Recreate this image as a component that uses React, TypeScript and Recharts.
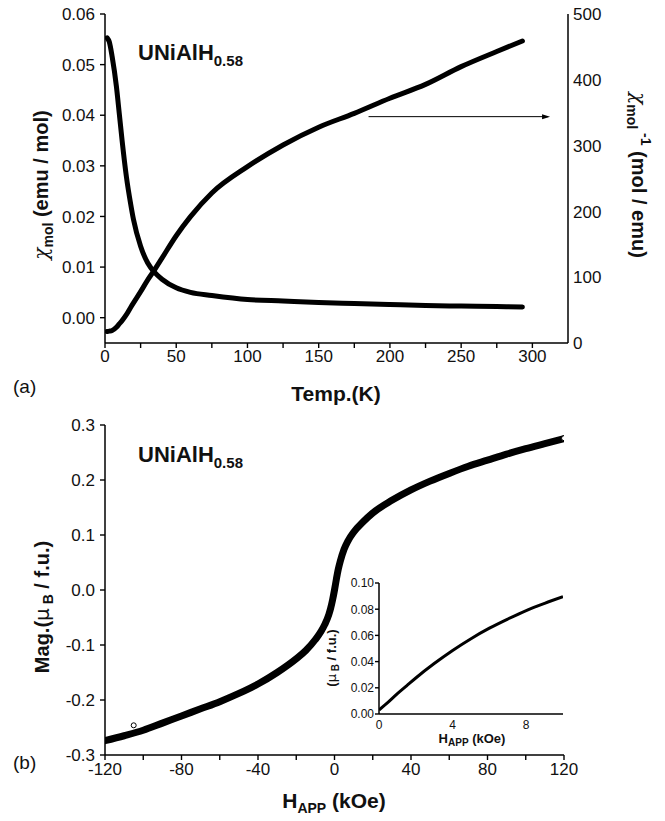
import React from "react";
import { ComposedChart, Line, Scatter, XAxis, YAxis, ReferenceLine, ReferenceDot } from "recharts";

const FONT = '"Liberation Sans", Arial, Helvetica, sans-serif';
const SANS_GREEK = '"DejaVu Sans", "Liberation Sans", sans-serif';
const SERIF_GREEK = '"DejaVu Serif", "Liberation Serif", serif';
const INK = "#111";

// (a) susceptibility vs temperature
const TEMP = [1.5, 3, 5, 8, 10, 12, 15, 18, 20, 25, 30, 35, 40, 50, 60, 75, 100, 125, 150, 175, 200, 225, 250, 275, 293];
const CHI = [0.0553, 0.0545, 0.0516, 0.0457, 0.0404, 0.035, 0.0279, 0.0225, 0.0194, 0.0141, 0.0108, 0.0089, 0.0076, 0.0059, 0.005, 0.0044, 0.0036, 0.0033, 0.003, 0.0028, 0.0026, 0.0024, 0.0023, 0.0022, 0.0021];
const CHI_INV = [17.5, 18, 19, 24, 29, 34, 43, 54, 61, 78, 96, 112, 129, 163, 192, 228, 268, 301, 328, 349, 372, 393, 420, 443, 459];
const TEMP_TICKS = [0, 25, 50, 75, 100, 125, 150, 175, 200, 225, 250, 275, 300];
const TEMP_LABELS = [0, 50, 100, 150, 200, 250, 300];
const CHI_LABELS = [0, 0.01, 0.02, 0.03, 0.04, 0.05, 0.06];
const CHI_MINOR = [0.005, 0.015, 0.025, 0.035, 0.045, 0.055];
const INV_LABELS = [0, 100, 200, 300, 400, 500];
const INV_MINOR = [50, 150, 250, 350, 450];
const ARROW_T = [185, 311];
const ARROW_INV = 344;

// (b) magnetisation vs applied field
const FIELD = [-120, -110, -100, -90, -80, -70, -60, -50, -40, -30, -20, -15, -10, -7, -5, -3, -2, -1, 0, 1, 2, 3, 5, 7, 10, 15, 20, 30, 40, 50, 60, 70, 80, 90, 100, 110, 120];
const MAG = [-0.274, -0.265, -0.255, -0.242, -0.229, -0.216, -0.203, -0.188, -0.171, -0.15, -0.125, -0.11, -0.09, -0.075, -0.062, -0.045, -0.033, -0.018, 0.0, 0.02, 0.038, 0.052, 0.074, 0.089, 0.105, 0.124, 0.14, 0.163, 0.182, 0.198, 0.212, 0.225, 0.236, 0.247, 0.257, 0.266, 0.275];
const OPEN_H = [-105, 120];
const OPEN_M = [-0.246, 0.276];
const FIELD_TICKS = [-120, -100, -80, -60, -40, -20, 0, 20, 40, 60, 80, 100, 120];
const FIELD_LABELS = [-120, -80, -40, 0, 40, 80, 120];
const MAG_LABELS = [-0.3, -0.2, -0.1, 0, 0.1, 0.2, 0.3];
const MAG_MINOR = [-0.25, -0.15, -0.05, 0.05, 0.15, 0.25];

// inset: low field
const LOW_H = [0, 0.5, 1, 1.5, 2, 3, 4, 5, 6, 7, 8, 9, 10];
const LOW_M = [0.003, 0.009, 0.0155, 0.0215, 0.0275, 0.0385, 0.0485, 0.0575, 0.0655, 0.0725, 0.079, 0.0845, 0.0895];
const LOW_H_TICKS = [0, 2, 4, 6, 8];
const LOW_H_LABELS = [0, 4, 8];
const LOW_M_LABELS = [0, 0.02, 0.04, 0.06, 0.08, 0.1];
const LOW_M_MINOR = [0.01, 0.03, 0.05, 0.07, 0.09];

const AXIS_LINE = { stroke: "#000", strokeWidth: 1.5 };
const TICK_LINE = { stroke: "#000", strokeWidth: 1.4 };
const NO_LABEL = () => null;

type Side = "left" | "right" | "bottom";
type LabelCfg = { labels?: number[]; fmt?: (v: number) => string; size?: number; gap?: number; off?: number };

// label only; tick marks come from the axes' own tickLine.
// off = the axis tickSize, so (x,y) can be walked back to the axis line
function tickLabel(side: Side, cfg: LabelCfg = {}) {
  const { labels, fmt = String, size = 17, gap = 5, off = 0 } = cfg;
  return (props: any) => {
    const { x, y, payload } = props;
    const v = payload.value;
    if (labels && !labels.some((l) => Math.abs(l - v) < 1e-9)) return null;
    const common = { fontSize: size, fontFamily: FONT, fill: INK };
    if (side === "left")
      return <text x={x + off - gap} y={y + size * 0.36} textAnchor="end" {...common}>{fmt(v)}</text>;
    if (side === "right")
      return <text x={x - off + gap} y={y + size * 0.36} textAnchor="start" {...common}>{fmt(v)}</text>;
    return <text x={x} y={y - off + gap} textAnchor="middle" {...common}>{fmt(v)}</text>;
  };
}

function PanelA() {
  const chi = TEMP.map((t, i) => ({ t, v: CHI[i] }));
  const inv = TEMP.map((t, i) => ({ t, v: CHI_INV[i] }));
  const dom: [number, number] = [0, 325];
  return (
    <ComposedChart width={665} height={400} margin={{ top: 14, right: 37, bottom: 17, left: 45 }}>
      <XAxis xAxisId="top" orientation="top" mirror height={0} type="number" domain={dom} ticks={TEMP_TICKS} interval={0}
        tickSize={4} tickLine={TICK_LINE} axisLine={AXIS_LINE} tick={NO_LABEL} allowDataOverflow />
      <XAxis xAxisId="b" dataKey="t" type="number" domain={dom} ticks={TEMP_TICKS} interval={0} height={40}
        tickSize={5} tickMargin={0} tickLine={TICK_LINE} axisLine={AXIS_LINE} allowDataOverflow
        tick={tickLabel("bottom", { labels: TEMP_LABELS, gap: 19, off: 5 })} />
      <YAxis yAxisId="chiMinor" mirror width={0} type="number" domain={[-0.005, 0.06]} ticks={CHI_MINOR} interval={0}
        tickSize={4} tickLine={TICK_LINE} axisLine={false} tick={NO_LABEL} allowDataOverflow />
      <YAxis yAxisId="chi" type="number" domain={[-0.005, 0.06]} ticks={CHI_LABELS} interval={0} width={60}
        tickSize={5} tickMargin={0} tickLine={TICK_LINE} axisLine={AXIS_LINE} allowDataOverflow
        tick={tickLabel("left", { fmt: (v) => v.toFixed(2), gap: 10, off: 5 })} />
      <YAxis yAxisId="invMajor" orientation="right" mirror width={0} type="number" domain={[0, 500]} ticks={INV_LABELS} interval={0}
        tickSize={6} tickLine={TICK_LINE} axisLine={false} tick={NO_LABEL} allowDataOverflow />
      <YAxis yAxisId="invMinor" orientation="right" mirror width={0} type="number" domain={[0, 500]} ticks={INV_MINOR} interval={0}
        tickSize={3} tickLine={TICK_LINE} axisLine={false} tick={NO_LABEL} allowDataOverflow />
      <YAxis yAxisId="inv" orientation="right" type="number" domain={[0, 500]} ticks={INV_LABELS} interval={0} width={60}
        tickSize={0} tickMargin={0} tickLine={false} axisLine={AXIS_LINE} allowDataOverflow
        tick={tickLabel("right", { gap: 5, off: 0 })} />
      <Line xAxisId="b" yAxisId="chi" data={chi} dataKey="v" type="monotone" stroke="#000" strokeWidth={5}
        strokeLinecap="round" dot={false} isAnimationActive={false} />
      <Line xAxisId="b" yAxisId="inv" data={inv} dataKey="v" type="monotone" stroke="#000" strokeWidth={5}
        strokeLinecap="round" dot={false} isAnimationActive={false} />
      <ReferenceLine xAxisId="b" yAxisId="inv" segment={[{ x: ARROW_T[0], y: ARROW_INV }, { x: ARROW_T[1], y: ARROW_INV }]}
        stroke="#000" strokeWidth={1} />
      <ReferenceDot xAxisId="b" yAxisId="inv" x={ARROW_T[1]} y={ARROW_INV}
        shape={(p: any) => <path d={`M${p.cx + 2},${p.cy} L${p.cx - 6},${p.cy - 2.5} L${p.cx - 6},${p.cy + 2.5} Z`} fill="#000" />} />
    </ComposedChart>
  );
}

function PanelB() {
  const mag = FIELD.map((h, i) => ({ h, m: MAG[i] }));
  const open = OPEN_H.map((h, i) => ({ h, m: OPEN_M[i] }));
  const dom: [number, number] = [-120, 120];
  return (
    <ComposedChart width={665} height={421} margin={{ top: 25, right: 101, bottom: 26, left: 45 }}>
      <XAxis xAxisId="top" orientation="top" mirror height={0} type="number" domain={dom} ticks={FIELD_TICKS} interval={0}
        tickSize={5} tickLine={TICK_LINE} axisLine={AXIS_LINE} tick={NO_LABEL} allowDataOverflow />
      <XAxis xAxisId="b" dataKey="h" type="number" domain={dom} ticks={FIELD_TICKS} interval={0} height={40}
        tickSize={5} tickMargin={0} tickLine={TICK_LINE} axisLine={AXIS_LINE} allowDataOverflow
        tick={tickLabel("bottom", { labels: FIELD_LABELS, gap: 20, off: 5 })} />
      <YAxis yAxisId="mMinor" mirror width={0} type="number" domain={[-0.3, 0.3]} ticks={MAG_MINOR} interval={0}
        tickSize={4} tickLine={TICK_LINE} axisLine={false} tick={NO_LABEL} allowDataOverflow />
      <YAxis yAxisId="m" type="number" domain={[-0.3, 0.3]} ticks={MAG_LABELS} interval={0} width={60}
        tickSize={5} tickMargin={0} tickLine={TICK_LINE} axisLine={AXIS_LINE} allowDataOverflow
        tick={tickLabel("left", { fmt: (v) => v.toFixed(1), gap: 10, off: 5 })} />
      <YAxis yAxisId="frame" orientation="right" type="number" domain={[0, 1]} width={0}
        tick={NO_LABEL} tickLine={false} axisLine={AXIS_LINE} />
      <Line xAxisId="b" yAxisId="m" data={mag} dataKey="m" type="monotone" stroke="#000" strokeWidth={7}
        strokeLinecap="round" dot={false} isAnimationActive={false} />
      <Scatter xAxisId="b" yAxisId="m" data={open} dataKey="m" isAnimationActive={false}
        shape={(p: any) => <circle cx={p.cx} cy={p.cy} r={2.5} fill="#fff" stroke="#000" strokeWidth={1} />} />
    </ComposedChart>
  );
}

function Inset() {
  const low = LOW_H.map((h, i) => ({ h, m: LOW_M[i] }));
  const dom: [number, number] = [0, 10];
  return (
    <ComposedChart width={280} height={200} margin={{ top: 23, right: 17, bottom: 16, left: 29 }}>
      <XAxis xAxisId="top" orientation="top" mirror height={0} type="number" domain={dom} ticks={LOW_H_TICKS} interval={0}
        tickSize={3} tickLine={TICK_LINE} axisLine={AXIS_LINE} tick={NO_LABEL} allowDataOverflow />
      <XAxis xAxisId="bt" orientation="bottom" mirror height={0} type="number" domain={dom} ticks={LOW_H_TICKS} interval={0}
        tickSize={4} tickLine={TICK_LINE} axisLine={false} tick={NO_LABEL} allowDataOverflow />
      <XAxis xAxisId="b" dataKey="h" type="number" domain={dom} ticks={LOW_H_LABELS} interval={0} height={30}
        tickSize={0} tickMargin={0} tickLine={false} axisLine={AXIS_LINE} allowDataOverflow
        tick={tickLabel("bottom", { size: 12, gap: 15, off: 0 })} />
      <YAxis yAxisId="mMinor" mirror width={0} type="number" domain={[0, 0.1]} ticks={LOW_M_MINOR} interval={0}
        tickSize={3} tickLine={TICK_LINE} axisLine={false} tick={NO_LABEL} allowDataOverflow />
      <YAxis yAxisId="m" type="number" domain={[0, 0.1]} ticks={LOW_M_LABELS} interval={0} width={50}
        tickSize={4} tickMargin={0} tickLine={TICK_LINE} axisLine={AXIS_LINE} allowDataOverflow
        tick={tickLabel("left", { fmt: (v) => v.toFixed(2), size: 12, gap: 5, off: 4 })} />
      <YAxis yAxisId="frame" orientation="right" type="number" domain={[0, 1]} width={0}
        tick={NO_LABEL} tickLine={false} axisLine={AXIS_LINE} />
      <Line xAxisId="b" yAxisId="m" data={low} dataKey="m" type="monotone" stroke="#000" strokeWidth={3}
        dot={false} isAnimationActive={false} />
    </ComposedChart>
  );
}

function Labels() {
  const bold = { fontFamily: FONT, fontWeight: 700, fill: INK };
  return (
    <svg width={665} height={821} style={{ position: "absolute", left: 0, top: 0, pointerEvents: "none" }}>
      {/* panel (a) */}
      <text x={138} y={60} fontSize={22} {...bold}>
        UNiAlH<tspan fontSize={15} dy={6}>0.58</tspan>
      </text>
      <text x={336} y={401} fontSize={21} textAnchor="middle" {...bold}>Temp.(K)</text>
      <text x={13} y={393} fontSize={19} fontFamily={FONT} fill={INK}>(a)</text>
      <text transform="translate(48,185) rotate(-90)" textAnchor="middle" fontSize={20} {...bold}>
        <tspan fontWeight={400} fontStyle="italic" fontFamily={SERIF_GREEK}>χ</tspan>
        <tspan fontSize={14} dy={5}>mol</tspan>
        <tspan dy={-5}> (emu / mol)</tspan>
      </text>
      <text transform="translate(632,175) rotate(90)" textAnchor="middle" fontSize={20} {...bold}>
        <tspan fontWeight={400} fontStyle="italic" fontFamily={SERIF_GREEK}>χ</tspan>
        <tspan fontSize={14} dy={5}>mol</tspan>
        <tspan fontSize={14} dy={-14}> -1</tspan>
        <tspan dy={9}> (mol / emu)</tspan>
      </text>
      {/* panel (b) */}
      <text x={138} y={462} fontSize={22} {...bold}>
        UNiAlH<tspan fontSize={15} dy={6}>0.58</tspan>
      </text>
      <text x={334} y={808} fontSize={21} textAnchor="middle" {...bold}>
        H<tspan fontSize={14} dy={5}>APP</tspan>
        <tspan dy={-5}> (kOe)</tspan>
      </text>
      <text x={13} y={769} fontSize={19} fontFamily={FONT} fill={INK}>(b)</text>
      <text transform="translate(49,607) rotate(-90)" textAnchor="middle" fontSize={20} {...bold}>
        Mag.(<tspan fontWeight={400} fontFamily={SANS_GREEK}>μ</tspan>
        <tspan fontSize={14} dy={4}> B</tspan>
        <tspan dy={-4}> / f.u.)</tspan>
      </text>
      {/* inset */}
      <text x={472} y={743} fontSize={13} textAnchor="middle" {...bold}>
        H<tspan fontSize={10} dy={3}>APP</tspan>
        <tspan dy={-3}> (kOe)</tspan>
      </text>
      <text transform="translate(336,658) rotate(-90)" textAnchor="middle" fontSize={13} {...bold}>
        (<tspan fontWeight={400} fontFamily={SANS_GREEK}>μ</tspan>
        <tspan fontSize={10} dy={3}> B</tspan>
        <tspan dy={-3}> / f.u.)</tspan>
      </text>
    </svg>
  );
}

export default function App() {
  return (
    <div style={{ position: "absolute", left: 0, top: 0, width: 665, height: 821, background: "#fff", fontFamily: FONT }}>
      <div style={{ position: "absolute", left: 0, top: 0 }}>
        <PanelA />
      </div>
      <div style={{ position: "absolute", left: 0, top: 400 }}>
        <PanelB />
      </div>
      <div style={{ position: "absolute", left: 300, top: 560 }}>
        <Inset />
      </div>
      <Labels />
    </div>
  );
}
